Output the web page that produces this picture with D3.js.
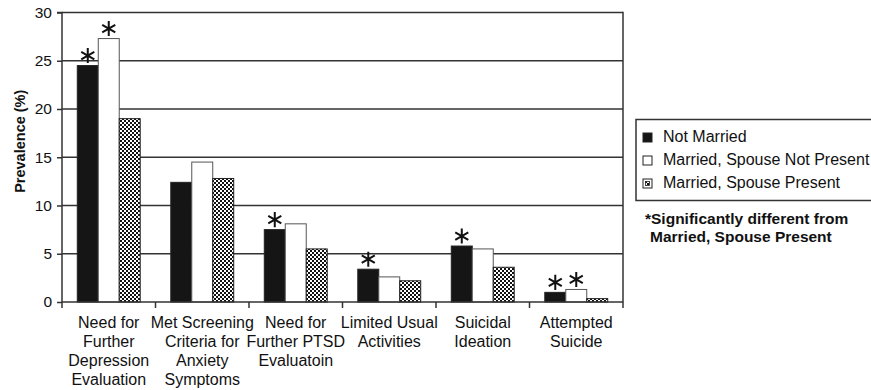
<!DOCTYPE html>
<html>
<head>
<meta charset="utf-8">
<script src="https://cdn.jsdelivr.net/npm/d3@7"></script>
<style>
  html, body { margin: 0; padding: 0; background: #fff; }
  svg { display: block; font-family: "Liberation Sans", Arial, Helvetica, sans-serif; }
</style>
</head>
<body>
<svg id="chart" width="871" height="390"></svg>
<script>
// Prevalence of screening outcomes by marital status
const categories = [
  ["Need for", "Further", "Depression", "Evaluation"],
  ["Met Screening", "Criteria for", "Anxiety", "Symptoms"],
  ["Need for", "Further PTSD", "Evaluatoin"],
  ["Limited Usual", "Activities"],
  ["Suicidal", "Ideation"],
  ["Attempted", "Suicide"]
];
const seriesNames = ["Not Married", "Married, Spouse Not Present", "Married, Spouse Present"];
const notMarried        = [24.5, 12.4, 7.5, 3.4, 5.8, 1.0];
const spouseNotPresent  = [27.3, 14.5, 8.1, 2.6, 5.5, 1.3];
const spousePresent     = [19.0, 12.8, 5.5, 2.2, 3.6, 0.35];
// significance flags (difference from "Married, Spouse Present")
const sigNotMarried       = [true, false, true, true, true, true];
const sigSpouseNotPresent = [true, false, false, false, false, true];
const yTicks = [0, 5, 10, 15, 20, 25, 30];
const footnote = ["*Significantly different from", "Married, Spouse Present"];

const series = [
  { name: seriesNames[0], values: notMarried, sig: sigNotMarried },
  { name: seriesNames[1], values: spouseNotPresent, sig: sigSpouseNotPresent },
  { name: seriesNames[2], values: spousePresent, sig: spousePresent.map(() => false) }
];

const svg = d3.select("#chart");
const margin = { left: 62, right: 248, top: 12.5, bottom: 88 };
const W = 871, H = 390;
const x0 = margin.left, x1 = W - margin.right, y0 = H - margin.bottom, y1 = margin.top;

const x = d3.scaleBand().domain(d3.range(categories.length)).range([x0, x1]).paddingInner(0.327).paddingOuter(0.1635);
const xs = d3.scaleBand().domain(d3.range(series.length)).range([0, x.bandwidth()]);
const y = d3.scaleLinear().domain([0, 30]).range([y0, y1]);
const stepX = d3.scaleBand().domain(d3.range(categories.length)).range([x0, x1]);

// checkered fill
const defs = svg.append("defs");
const pat = defs.append("pattern").attr("id", "checker").attr("patternUnits", "userSpaceOnUse")
  .attr("width", 4).attr("height", 4);
pat.append("rect").attr("width", 4).attr("height", 4).attr("fill", "#fff");
pat.append("rect").attr("width", 2).attr("height", 2).attr("fill", "#111");
pat.append("rect").attr("x", 2).attr("y", 2).attr("width", 2).attr("height", 2).attr("fill", "#111");

const fills = ["#151515", "#fff", "url(#checker)"];
const strokes = ["#222", "#555", "#222"];

// gridlines
svg.append("g").selectAll("line").data(yTicks.filter(t => t > 0)).join("line")
  .attr("x1", x0).attr("x2", x1)
  .attr("y1", d => y(d)).attr("y2", d => y(d))
  .attr("stroke", "#333").attr("stroke-width", 1.5);

// right frame edge
svg.append("line").attr("x1", x1).attr("x2", x1).attr("y1", y1 - 0.75).attr("y2", y0 + 6)
  .attr("stroke", "#333").attr("stroke-width", 1.5);

// bars
const groups = svg.append("g").selectAll("g").data(series).join("g");
groups.selectAll("rect").data((s, si) => s.values.map((v, ci) => ({ v, ci, si })))
  .join("rect")
  .attr("x", d => x(d.ci) + xs(d.si))
  .attr("width", xs.bandwidth())
  .attr("y", d => y(d.v))
  .attr("height", d => y(0) - y(d.v))
  .attr("fill", d => fills[d.si])
  .attr("stroke", d => strokes[d.si])
  .attr("stroke-width", 1);

// significance asterisks
const star = d3.symbol().type(d3.symbolAsterisk).size(160);
groups.selectAll("path.star").data((s, si) => s.values.map((v, ci) => ({ v, ci, si, sig: s.sig[ci] })).filter(d => d.sig))
  .join("path").attr("class", "star")
  .attr("transform", d => `translate(${x(d.ci) + xs(d.si) + xs.bandwidth() / 2},${y(d.v) - 10})`)
  .attr("d", star())
  .attr("fill", "none").attr("stroke", "#111").attr("stroke-width", 2);

// y axis
const yAxis = svg.append("g").attr("transform", `translate(${x0},0)`)
  .call(d3.axisLeft(y).tickValues(yTicks).tickSize(5).tickPadding(5));
yAxis.select(".domain").attr("stroke", "#333").attr("stroke-width", 1.5).attr("d", `M-5,${y1}H0V${y0}`);
yAxis.selectAll(".tick line").attr("stroke", "#333").attr("stroke-width", 1.5);
yAxis.selectAll(".tick text").attr("font-size", 15.5).attr("fill", "#111")
  .attr("font-family", "Liberation Sans, Arial, sans-serif");

// x axis baseline and category boundary ticks
svg.append("line").attr("x1", x0).attr("x2", x1).attr("y1", y0).attr("y2", y0)
  .attr("stroke", "#333").attr("stroke-width", 1.5);
svg.append("g").selectAll("line").data(d3.range(categories.length)).join("line")
  .attr("x1", d => stepX(d)).attr("x2", d => stepX(d))
  .attr("y1", y0).attr("y2", y0 + 6)
  .attr("stroke", "#333").attr("stroke-width", 1.5);

// category labels
svg.append("g").selectAll("text").data(categories).join("text")
  .attr("x", (d, i) => stepX(i) + stepX.bandwidth() / 2)
  .attr("y", y0 + 25.5)
  .attr("text-anchor", "middle").attr("font-size", 16).attr("fill", "#111")
  .selectAll("tspan").data(d => d).join("tspan")
  .attr("x", function () { return this.parentNode.getAttribute("x"); })
  .attr("dy", (d, i) => i === 0 ? 0 : 19)
  .text(d => d);

// y axis title
svg.append("text")
  .attr("transform", `translate(24.5,${(y0 + y1) / 2 - 16}) rotate(-90)`)
  .attr("text-anchor", "middle").attr("font-size", 14.5).attr("font-weight", "bold").attr("fill", "#111")
  .text("Prevalence (%)");

// legend
const lg = svg.append("g");
lg.append("rect").attr("x", 636).attr("y", 119.5).attr("width", 260).attr("height", 81)
  .attr("fill", "#fff").attr("stroke", "#333").attr("stroke-width", 1.5);
const items = lg.selectAll("g.item").data(series).join("g").attr("class", "item")
  .attr("transform", (d, i) => `translate(643,${133 + i * 23})`);
items.append("rect").attr("width", 9).attr("height", 9)
  .attr("fill", (d, i) => i === 2 ? "#fff" : fills[i])
  .attr("stroke", "#222").attr("stroke-width", 1);
items.filter((d, i) => i === 2).append("rect").attr("x", 2.5).attr("y", 2.5).attr("width", 4).attr("height", 4)
  .attr("fill", "url(#checker)").attr("stroke", "#222").attr("stroke-width", 0.8);
items.append("text").attr("x", 20).attr("y", 9.3).attr("font-size", 16).attr("fill", "#111")
  .text(d => d.name);

// footnote
svg.append("g").selectAll("text").data(footnote).join("text")
  .attr("x", (d, i) => i === 0 ? 645 : 650)
  .attr("y", (d, i) => 224 + i * 18)
  .attr("font-size", 15.5).attr("font-weight", "bold").attr("fill", "#111")
  .text(d => d);
</script>
</body>
</html>
